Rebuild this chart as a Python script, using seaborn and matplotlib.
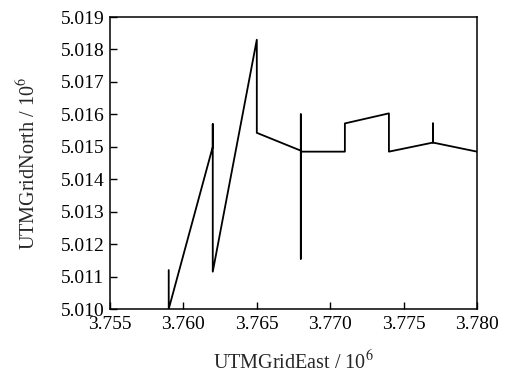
import matplotlib
matplotlib.use("Agg")
import matplotlib.pyplot as plt
import seaborn as sns
import pandas as pd
import numpy as np

east = [3.7590, 3.7590, 3.7620, 3.7620, 3.7620, 3.7650, 3.7650, 3.7680, 3.7680,
        3.7680, 3.7680, 3.7710, 3.7710, 3.7740, 3.7740, 3.7770, 3.7770, 3.7770, 3.7800]
north = [5.0112, 5.0100, 5.0150, 5.0157, 5.01115, 5.0183, 5.01543, 5.01488, 5.0160,
         5.01155, 5.01485, 5.01485, 5.01572, 5.01603, 5.01485, 5.01513, 5.01572, 5.01513, 5.01485]
xticks = [3.755, 3.760, 3.765, 3.770, 3.775, 3.780]
yticks = [5.010, 5.011, 5.012, 5.013, 5.014, 5.015, 5.016, 5.017, 5.018, 5.019]

df = pd.DataFrame({"east": east, "north": north, "order": np.arange(len(east))})

sns.set_style("ticks")
plt.rcParams['font.family'] = ['Liberation Serif', 'DejaVu Serif']
plt.rcParams['mathtext.fontset'] = 'stix'

fig = plt.figure(figsize=(5.14, 3.74), dpi=100)
ax = fig.add_axes([110/514, 1-309/374, (477-110)/514, (309-17)/374])
sns.lineplot(data=df, x="east", y="north", sort=False, estimator=None,
             color="black", linewidth=1.3, ax=ax)

ax.set_xlim(3.755, 3.780)
ax.set_ylim(5.010, 5.019)
ax.set_xticks(xticks)
ax.set_xticklabels([f"{v:.3f}" for v in xticks])
ax.set_yticks(yticks)
ax.set_yticklabels([f"{v:.3f}" for v in yticks])
ax.tick_params(direction="in", length=5, width=1, labelsize=14, colors="black",
               top=False, right=False)
ax.tick_params(axis="y", pad=4)
ax.tick_params(axis="x", pad=5)
for s in ax.spines.values():
    s.set_visible(True)
    s.set_linewidth(1.1)
    s.set_color("black")
ax.set_xlabel("UTMGridEast / 10$^6$", fontsize=14.5, labelpad=13)
ax.set_ylabel("UTMGridNorth / 10$^6$", fontsize=14.5, labelpad=15)

fig.savefig("out.png", dpi=100)
